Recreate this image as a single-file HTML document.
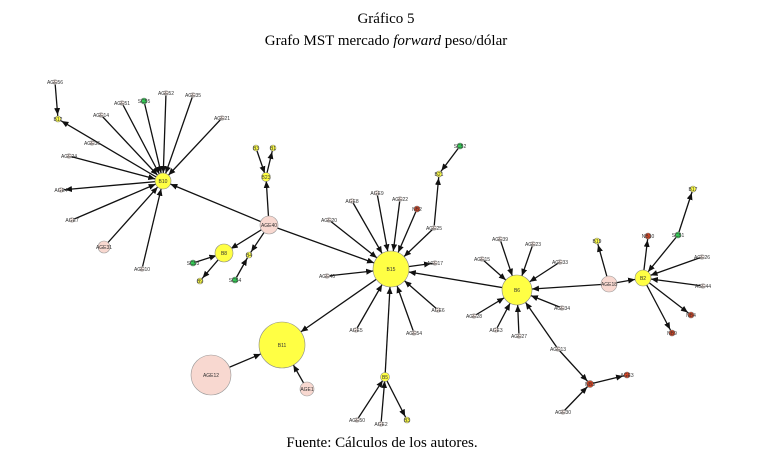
<!DOCTYPE html>
<html><head><meta charset="utf-8"><style>
body{margin:0;background:#fff;width:773px;height:471px;overflow:hidden}
svg{display:block}
.t{font-family:"Liberation Serif",serif;font-size:15px;fill:#000}
.l{font-family:"Liberation Sans",sans-serif;font-size:5px;fill:#333;text-anchor:middle}
line{stroke:#111;stroke-width:1.3}
.y{fill:#ffff44;stroke:#888;stroke-width:.6}
.p{fill:#f8d8d0;stroke:#999;stroke-width:.6}
.g{fill:#33cc55;stroke:#777;stroke-width:.6}
.r{fill:#dd4422;stroke:#777;stroke-width:.6}
.w{fill:#f4e8e4;stroke:#aaa;stroke-width:.5}
</style></head><body>
<svg width="773" height="471" viewBox="0 0 773 471">
<defs>
<marker id="a4" markerUnits="userSpaceOnUse" markerWidth="12" markerHeight="8" refX="11" refY="3" orient="auto"><path d="M0,0L7,3L0,6z" fill="#111"/></marker>
<marker id="a8" markerUnits="userSpaceOnUse" markerWidth="20" markerHeight="8" refX="15" refY="3" orient="auto"><path d="M0,0L7,3L0,6z" fill="#111"/></marker>
<marker id="a15" markerUnits="userSpaceOnUse" markerWidth="30" markerHeight="8" refX="22" refY="3" orient="auto"><path d="M0,0L7,3L0,6z" fill="#111"/></marker>
<marker id="a18" markerUnits="userSpaceOnUse" markerWidth="30" markerHeight="8" refX="25" refY="3" orient="auto"><path d="M0,0L7,3L0,6z" fill="#111"/></marker>
<marker id="a23" markerUnits="userSpaceOnUse" markerWidth="34" markerHeight="8" refX="30" refY="3" orient="auto"><path d="M0,0L7,3L0,6z" fill="#111"/></marker>
</defs>
<text class="t" x="386" y="23" text-anchor="middle">Gráfico 5</text>
<text class="t" x="386" y="45" text-anchor="middle">Grafo MST mercado <tspan font-style="italic">forward</tspan> peso/dólar</text>
<text class="t" x="382" y="447" text-anchor="middle">Fuente: Cálculos de los autores.</text>
<g>
<!-- B10 spokes -->
<line x1="55" y1="82" x2="58" y2="119" marker-end="url(#a4)"/>
<line x1="163" y1="181" x2="58" y2="119" marker-end="url(#a4)"/>
<line x1="122" y1="103" x2="163" y2="181" marker-end="url(#a8)"/>
<line x1="144" y1="101" x2="163" y2="181" marker-end="url(#a8)"/>
<line x1="166" y1="93" x2="163" y2="181" marker-end="url(#a8)"/>
<line x1="193" y1="95" x2="163" y2="181" marker-end="url(#a8)"/>
<line x1="101" y1="115" x2="163" y2="181" marker-end="url(#a8)"/>
<line x1="222" y1="118" x2="163" y2="181" marker-end="url(#a8)"/>
<line x1="69" y1="156" x2="163" y2="181" marker-end="url(#a8)"/>
<line x1="163" y1="181" x2="61" y2="190" marker-end="url(#a4)"/>
<line x1="72" y1="220" x2="163" y2="181" marker-end="url(#a8)"/>
<line x1="104" y1="247" x2="163" y2="181" marker-end="url(#a8)"/>
<line x1="142" y1="269" x2="163" y2="181" marker-end="url(#a8)"/>
<line x1="269" y1="225" x2="163" y2="181" marker-end="url(#a8)"/>
<!-- AGE40 -->
<line x1="269" y1="225" x2="266" y2="177" marker-end="url(#a4)"/>
<line x1="256" y1="148" x2="266" y2="177" marker-end="url(#a4)"/>
<line x1="266" y1="177" x2="273" y2="148" marker-end="url(#a4)"/>
<line x1="269" y1="225" x2="224" y2="253" marker-end="url(#a8)"/>
<line x1="269" y1="225" x2="249" y2="255" marker-end="url(#a4)"/>
<line x1="235" y1="280" x2="249" y2="255" marker-end="url(#a4)"/>
<line x1="193" y1="263" x2="224" y2="253" marker-end="url(#a8)"/>
<line x1="224" y1="253" x2="200" y2="281" marker-end="url(#a4)"/>
<line x1="269" y1="225" x2="391" y2="269" marker-end="url(#a18)"/>
<!-- B15 spokes -->
<line x1="352" y1="201" x2="391" y2="269" marker-end="url(#a18)"/>
<line x1="377" y1="193" x2="391" y2="269" marker-end="url(#a18)"/>
<line x1="400" y1="199" x2="391" y2="269" marker-end="url(#a18)"/>
<line x1="417" y1="209" x2="391" y2="269" marker-end="url(#a18)"/>
<line x1="329" y1="220" x2="391" y2="269" marker-end="url(#a18)"/>
<line x1="434" y1="228" x2="391" y2="269" marker-end="url(#a18)"/>
<line x1="434" y1="228" x2="439" y2="174" marker-end="url(#a4)"/>
<line x1="460" y1="146" x2="439" y2="174" marker-end="url(#a4)"/>
<line x1="391" y1="269" x2="435" y2="263" marker-end="url(#a4)"/>
<line x1="327" y1="276" x2="391" y2="269" marker-end="url(#a18)"/>
<line x1="438" y1="310" x2="391" y2="269" marker-end="url(#a18)"/>
<line x1="356" y1="330" x2="391" y2="269" marker-end="url(#a18)"/>
<line x1="414" y1="333" x2="391" y2="269" marker-end="url(#a18)"/>
<line x1="385" y1="377" x2="391" y2="269" marker-end="url(#a18)"/>
<line x1="391" y1="269" x2="282" y2="345" marker-end="url(#a23)"/>
<line x1="517" y1="290" x2="391" y2="269" marker-end="url(#a18)"/>
<!-- B11 -->
<line x1="211" y1="375" x2="282" y2="345" marker-end="url(#a23)"/>
<line x1="307" y1="389" x2="282" y2="345" marker-end="url(#a23)"/>
<line x1="357" y1="420" x2="385" y2="377" marker-end="url(#a4)"/>
<line x1="381" y1="424" x2="385" y2="377" marker-end="url(#a4)"/>
<line x1="385" y1="377" x2="407" y2="420" marker-end="url(#a4)"/>
<!-- B6 -->
<line x1="500" y1="239" x2="517" y2="290" marker-end="url(#a15)"/>
<line x1="533" y1="244" x2="517" y2="290" marker-end="url(#a15)"/>
<line x1="482" y1="259" x2="517" y2="290" marker-end="url(#a15)"/>
<line x1="560" y1="262" x2="517" y2="290" marker-end="url(#a15)"/>
<line x1="562" y1="308" x2="517" y2="290" marker-end="url(#a15)"/>
<line x1="474" y1="316" x2="517" y2="290" marker-end="url(#a15)"/>
<line x1="496" y1="330" x2="517" y2="290" marker-end="url(#a15)"/>
<line x1="519" y1="336" x2="517" y2="290" marker-end="url(#a15)"/>
<line x1="558" y1="349" x2="517" y2="290" marker-end="url(#a15)"/>
<line x1="558" y1="349" x2="590" y2="384" marker-end="url(#a4)"/>
<line x1="563" y1="412" x2="590" y2="384" marker-end="url(#a4)"/>
<line x1="590" y1="384" x2="627" y2="375" marker-end="url(#a4)"/>
<line x1="609" y1="284" x2="517" y2="290" marker-end="url(#a15)"/>
<!-- AGE18 / B2 -->
<line x1="609" y1="284" x2="597" y2="241" marker-end="url(#a4)"/>
<line x1="609" y1="284" x2="643" y2="278" marker-end="url(#a8)"/>
<line x1="643" y1="278" x2="648" y2="236" marker-end="url(#a4)"/>
<line x1="678" y1="235" x2="643" y2="278" marker-end="url(#a8)"/>
<line x1="678" y1="235" x2="693" y2="189" marker-end="url(#a4)"/>
<line x1="702" y1="257" x2="643" y2="278" marker-end="url(#a8)"/>
<line x1="703" y1="286" x2="643" y2="278" marker-end="url(#a8)"/>
<line x1="643" y1="278" x2="691" y2="315" marker-end="url(#a4)"/>
<line x1="643" y1="278" x2="672" y2="333" marker-end="url(#a4)"/>
</g>
<g>
<circle class="y" cx="163" cy="181" r="8"/><text class="l" x="163" y="183">B10</text>
<circle class="y" cx="391" cy="269" r="18"/><text class="l" x="391" y="271">B15</text>
<circle class="y" cx="517" cy="290" r="15"/><text class="l" x="517" y="292">B6</text>
<circle class="y" cx="282" cy="345" r="23"/><text class="l" x="282" y="347">B11</text>
<circle class="p" cx="211" cy="375" r="20"/><text class="l" x="211" y="377">AGE12</text>
<circle class="p" cx="307" cy="389" r="7"/><text class="l" x="307" y="391">AGE1</text>
<circle class="p" cx="269" cy="225" r="9"/><text class="l" x="269" y="227">AGE40</text>
<circle class="y" cx="224" cy="253" r="9"/><text class="l" x="224" y="255">B8</text>
<circle class="p" cx="609" cy="284" r="8"/><text class="l" x="609" y="286">AGE18</text>
<circle class="y" cx="643" cy="278" r="8"/><text class="l" x="643" y="280">B2</text>
<circle class="p" cx="104" cy="247" r="6"/><text class="l" x="104" y="249">AGE31</text>
<circle class="y" cx="385" cy="377" r="4.5"/><text class="l" x="385" y="379">B5</text>
<circle class="y" cx="266" cy="177" r="4.5"/><text class="l" x="266" y="179">B23</text>
<circle class="y" cx="58" cy="119" r="3"/><text class="l" x="58" y="121">B12</text>
<circle class="y" cx="256" cy="148" r="3"/><text class="l" x="256" y="150">B3</text>
<circle class="y" cx="273" cy="148" r="3"/><text class="l" x="273" y="150">B1</text>
<circle class="y" cx="249" cy="255" r="3"/><text class="l" x="249" y="257">B4</text>
<circle class="y" cx="200" cy="281" r="3"/><text class="l" x="200" y="283">B9</text>
<circle class="y" cx="439" cy="174" r="3"/><text class="l" x="439" y="176">B21</text>
<circle class="y" cx="407" cy="420" r="3"/><text class="l" x="407" y="422">B3</text>
<circle class="y" cx="597" cy="241" r="3"/><text class="l" x="597" y="243">B19</text>
<circle class="y" cx="693" cy="189" r="3"/><text class="l" x="693" y="191">B17</text>
<circle class="g" cx="144" cy="101" r="3"/><text class="l" x="144" y="103">SC55</text>
<circle class="g" cx="193" cy="263" r="3"/><text class="l" x="193" y="265">SC53</text>
<circle class="g" cx="235" cy="280" r="3"/><text class="l" x="235" y="282">SC54</text>
<circle class="g" cx="460" cy="146" r="3"/><text class="l" x="460" y="148">SC52</text>
<circle class="g" cx="678" cy="235" r="3"/><text class="l" x="678" y="237">SC51</text>
<circle class="r" cx="417" cy="209" r="3"/><text class="l" x="417" y="211">NB2</text>
<circle class="r" cx="590" cy="384" r="3.5"/><text class="l" x="590" y="386">NB3</text>
<circle class="r" cx="627" cy="375" r="3"/><text class="l" x="627" y="377">AGE3</text>
<circle class="r" cx="648" cy="236" r="3"/><text class="l" x="648" y="238">NB10</text>
<circle class="r" cx="691" cy="315" r="3"/><text class="l" x="691" y="317">NB4</text>
<circle class="r" cx="672" cy="333" r="3"/><text class="l" x="672" y="335">NB9</text>
<g>
<circle class="w" cx="55" cy="82" r="2.5"/><text class="l" x="55" y="84">AGE56</text>
<circle class="w" cx="122" cy="103" r="2.5"/><text class="l" x="122" y="105">AGE51</text>
<circle class="w" cx="166" cy="93" r="2.5"/><text class="l" x="166" y="95">AGE52</text>
<circle class="w" cx="193" cy="95" r="2.5"/><text class="l" x="193" y="97">AGE35</text>
<circle class="w" cx="101" cy="115" r="2.5"/><text class="l" x="101" y="117">AGE14</text>
<circle class="w" cx="222" cy="118" r="2.5"/><text class="l" x="222" y="120">AGE21</text>
<circle class="w" cx="92" cy="143" r="2.5"/><text class="l" x="92" y="145">AGE36</text>
<circle class="w" cx="69" cy="156" r="2.5"/><text class="l" x="69" y="158">AGE24</text>
<circle class="w" cx="61" cy="190" r="2.5"/><text class="l" x="61" y="192">AGE4</text>
<circle class="w" cx="72" cy="220" r="2.5"/><text class="l" x="72" y="222">AGE7</text>
<circle class="w" cx="142" cy="269" r="2.5"/><text class="l" x="142" y="271">AGE10</text>
<circle class="w" cx="352" cy="201" r="2.5"/><text class="l" x="352" y="203">AGE8</text>
<circle class="w" cx="377" cy="193" r="2.5"/><text class="l" x="377" y="195">AGE9</text>
<circle class="w" cx="400" cy="199" r="2.5"/><text class="l" x="400" y="201">AGE22</text>
<circle class="w" cx="329" cy="220" r="2.5"/><text class="l" x="329" y="222">AGE20</text>
<circle class="w" cx="434" cy="228" r="2.5"/><text class="l" x="434" y="230">AGE25</text>
<circle class="w" cx="435" cy="263" r="2.5"/><text class="l" x="435" y="265">AGE17</text>
<circle class="w" cx="327" cy="276" r="2.5"/><text class="l" x="327" y="278">AGE46</text>
<circle class="w" cx="438" cy="310" r="2.5"/><text class="l" x="438" y="312">AGE6</text>
<circle class="w" cx="356" cy="330" r="2.5"/><text class="l" x="356" y="332">AGE5</text>
<circle class="w" cx="414" cy="333" r="2.5"/><text class="l" x="414" y="335">AGE54</text>
<circle class="w" cx="357" cy="420" r="2.5"/><text class="l" x="357" y="422">AGE50</text>
<circle class="w" cx="381" cy="424" r="2.5"/><text class="l" x="381" y="426">AGE2</text>
<circle class="w" cx="500" cy="239" r="2.5"/><text class="l" x="500" y="241">AGE39</text>
<circle class="w" cx="533" cy="244" r="2.5"/><text class="l" x="533" y="246">AGE23</text>
<circle class="w" cx="482" cy="259" r="2.5"/><text class="l" x="482" y="261">AGE15</text>
<circle class="w" cx="560" cy="262" r="2.5"/><text class="l" x="560" y="264">AGE33</text>
<circle class="w" cx="562" cy="308" r="2.5"/><text class="l" x="562" y="310">AGE34</text>
<circle class="w" cx="474" cy="316" r="2.5"/><text class="l" x="474" y="318">AGE28</text>
<circle class="w" cx="496" cy="330" r="2.5"/><text class="l" x="496" y="332">AGE3</text>
<circle class="w" cx="519" cy="336" r="2.5"/><text class="l" x="519" y="338">AGE27</text>
<circle class="w" cx="558" cy="349" r="2.5"/><text class="l" x="558" y="351">AGE13</text>
<circle class="w" cx="563" cy="412" r="2.5"/><text class="l" x="563" y="414">AGE30</text>
<circle class="w" cx="702" cy="257" r="2.5"/><text class="l" x="702" y="259">AGE26</text>
<circle class="w" cx="703" cy="286" r="2.5"/><text class="l" x="703" y="288">AGE44</text>
</g>
</g>
</svg>
</body></html>
